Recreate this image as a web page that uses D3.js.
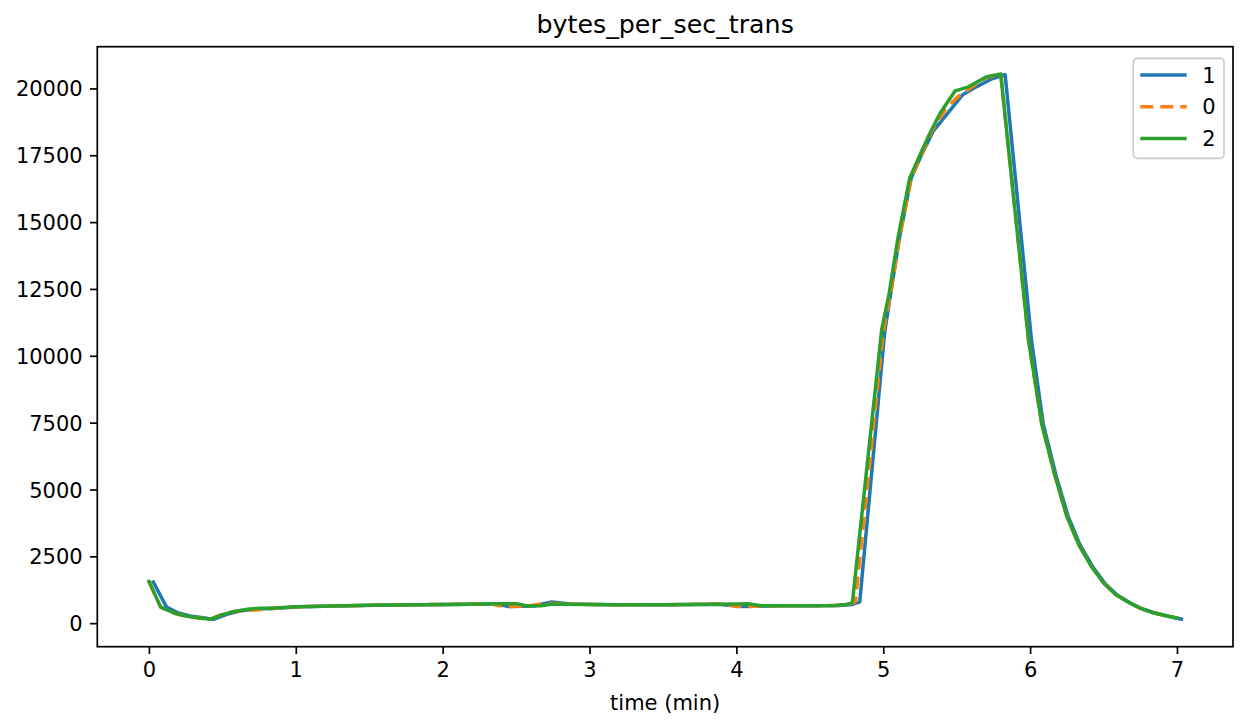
<!DOCTYPE html>
<html lang="en">
<head>
    <meta charset="UTF-8">
    <title>bytes_per_sec_trans</title>
    <style>
        html, body { margin: 0; padding: 0; background: #fff; overflow: hidden; }
        svg { display: block; }
        text { font-family: "DejaVu Sans", sans-serif; fill: #000; }
        .tick text { font-size: 21px; }
        .axis-label { font-size: 21px; }
        .title { font-size: 25.3px; }
    </style>
</head>
<body>

<svg width="1243" height="725"></svg>

<script src="https://d3js.org/d3.v7.min.js"></script>
<script>

    // Series "1" (blue)
    const time1 = [0.03, 0.12, 0.20, 0.28, 0.37, 0.44, 0.53, 0.62, 0.70, 0.78, 0.86, 0.95,
        1.03, 1.20, 1.37, 1.53, 1.70, 1.87, 2.03, 2.20, 2.37, 2.45, 2.62, 2.74, 2.87,
        3.03, 3.20, 3.37, 3.53, 3.70, 3.87, 4.04, 4.12, 4.20, 4.37, 4.53, 4.70, 4.79,
        4.84, 5.01, 5.05, 5.11, 5.19, 5.25, 5.34, 5.54, 5.63, 5.74, 5.83, 6.01, 6.09,
        6.18, 6.26, 6.34, 6.43, 6.51, 6.59, 6.68, 6.76, 6.85, 6.94, 7.03];
    const bytes1 = [1540, 600, 380, 270, 200, 140, 330, 450, 520, 540, 560, 590,
        610, 630, 650, 670, 680, 690, 700, 710, 720, 620, 640, 790, 720,
        700, 690, 690, 690, 700, 710, 620, 630, 640, 650, 650, 660, 700,
        800, 10900, 12300, 14400, 16640, 17390, 18400, 19760, 20050, 20360, 20510, 10550, 7430,
        5450, 3980, 2930, 2080, 1480, 1060, 760, 540, 380, 260, 150];

    // Series "0" (orange, dashed)
    const time0 = [0.00, 0.08, 0.17, 0.25, 0.33, 0.42, 0.50, 0.58, 0.67, 0.75, 0.83, 0.92,
        1.00, 1.17, 1.33, 1.50, 1.67, 1.83, 2.00, 2.17, 2.33, 2.42, 2.58, 2.67, 2.75, 2.83,
        3.00, 3.17, 3.33, 3.50, 3.67, 3.83, 3.92, 4.00, 4.08, 4.17, 4.33, 4.50, 4.67, 4.75,
        4.81, 5.00, 5.05, 5.11, 5.19, 5.25, 5.33, 5.42, 5.50, 5.59, 5.70, 5.80, 5.99, 6.08,
        6.17, 6.25, 6.33, 6.42, 6.50, 6.58, 6.67, 6.75, 6.83, 6.92, 7.00];
    const bytes0 = [1560, 600, 380, 260, 200, 150, 330, 440, 480, 500, 540, 580,
        610, 630, 650, 670, 680, 690, 700, 710, 720, 620, 640, 720, 740, 720,
        700, 690, 690, 690, 700, 710, 720, 620, 620, 640, 650, 650, 660, 700,
        790, 10900, 12330, 14400, 16640, 17390, 18400, 19200, 19650, 20000, 20400, 20540, 10550, 7430,
        5500, 4000, 2950, 2100, 1500, 1080, 780, 560, 400, 290, 190];

    // Series "2" (green)
    const time2 = [0.00, 0.08, 0.17, 0.25, 0.33, 0.42, 0.50, 0.58, 0.67, 0.75, 0.83, 0.92,
        1.00, 1.17, 1.33, 1.50, 1.67, 1.83, 2.00, 2.17, 2.33, 2.50, 2.58, 2.67, 2.75, 2.83,
        3.00, 3.17, 3.33, 3.50, 3.67, 3.83, 4.00, 4.08, 4.17, 4.33, 4.50, 4.67, 4.75,
        4.79, 4.99, 5.04, 5.10, 5.18, 5.24, 5.32, 5.39, 5.49, 5.58, 5.70, 5.80, 5.99, 6.08,
        6.17, 6.25, 6.33, 6.42, 6.50, 6.58, 6.67, 6.75, 6.83, 6.92, 7.00];
    const bytes2 = [1560, 600, 380, 270, 200, 150, 320, 440, 520, 560, 560, 590,
        610, 630, 650, 670, 680, 690, 700, 710, 730, 730, 640, 650, 720, 710,
        700, 690, 690, 690, 700, 710, 720, 730, 650, 650, 650, 660, 700,
        780, 11000, 12330, 14400, 16640, 17390, 18350, 19100, 19910, 20060, 20430, 20540, 10550, 7430,
        5500, 4000, 2950, 2100, 1500, 1080, 780, 560, 400, 290, 190];

    const seriesNames = ['1', '0', '2'];
    const seriesColors = ['#1f77b4', '#ff7f0e', '#2ca02c'];
    const seriesDash = [null, '13,7', null];

    const xTicks = [0, 1, 2, 3, 4, 5, 6, 7];
    const yTicks = [0, 2500, 5000, 7500, 10000, 12500, 15000, 17500, 20000];

    const chartTitle = 'bytes_per_sec_trans';
    const xLabel = 'time (min)';

    const series = [
        d3.zip(time1, bytes1),
        d3.zip(time0, bytes0),
        d3.zip(time2, bytes2)
    ];

    const margin = { left: 97.3, right: 10, top: 46.7, bottom: 78.3 };
    const lineWidth = 3.5;

    const svg = d3.select('svg');
    const width = +svg.attr('width');
    const height = +svg.attr('height');
    const innerWidth = width - margin.left - margin.right;
    const innerHeight = height - margin.top - margin.bottom;

    svg.append('rect')
        .attr('width', width)
        .attr('height', height)
        .attr('fill', '#fff');

    // matplotlib style 5% margins around the data
    const allPoints = d3.merge(series);
    const xExt = d3.extent(allPoints, function (d) { return d[0]; });
    const yExt = d3.extent(allPoints, function (d) { return d[1]; });
    const xPad = (xExt[1] - xExt[0]) * 0.05;
    const yPad = (yExt[1] - yExt[0]) * 0.05;

    const xScale = d3.scaleLinear()
        .domain([xExt[0] - xPad, xExt[1] + xPad])
        .range([0, innerWidth]);

    const yScale = d3.scaleLinear()
        .domain([yExt[0] - yPad, yExt[1] + yPad])
        .range([innerHeight, 0]);

    const group = svg.append('g')
        .attr('transform', 'translate(' + margin.left + ' ' + margin.top + ')');

    const line = d3.line()
        .x(function (d) { return xScale(d[0]); })
        .y(function (d) { return yScale(d[1]); });

    group.append('g')
        .selectAll('path')
        .data(series)
        .enter()
        .append('path')
        .attr('d', line)
        .attr('fill', 'none')
        .attr('stroke', function (d, i) { return seriesColors[i]; })
        .attr('stroke-width', lineWidth)
        .attr('stroke-linejoin', 'round')
        .attr('stroke-linecap', function (d, i) { return seriesDash[i] ? 'butt' : 'square'; })
        .attr('stroke-dasharray', function (d, i) { return seriesDash[i]; });

    const xAxis = d3.axisBottom(xScale)
        .tickValues(xTicks)
        .tickFormat(d3.format('d'))
        .tickSize(7.3)
        .tickPadding(7.3);

    const yAxis = d3.axisLeft(yScale)
        .tickValues(yTicks)
        .tickFormat(d3.format('d'))
        .tickSize(7.3)
        .tickPadding(7.3);

    const xAxisG = group.append('g')
        .attr('transform', 'translate(0 ' + innerHeight + ')')
        .call(xAxis);

    const yAxisG = group.append('g')
        .call(yAxis);

    [xAxisG, yAxisG].forEach(function (g) {
        g.attr('font-size', null).attr('font-family', null);
        g.select('.domain').remove();
        g.selectAll('.tick line').attr('stroke', '#000').attr('stroke-width', 1.7);
        g.selectAll('.tick text').attr('fill', '#000');
    });

    xAxisG.selectAll('.tick text').attr('dy', '0.76em');
    yAxisG.selectAll('.tick text').attr('dy', '0.36em');

    // frame
    group.append('rect')
        .attr('width', innerWidth)
        .attr('height', innerHeight)
        .attr('fill', 'none')
        .attr('stroke', '#000')
        .attr('stroke-width', 1.7);

    // title and axis label
    svg.append('text')
        .attr('class', 'title')
        .attr('x', margin.left + innerWidth / 2)
        .attr('y', 33)
        .attr('text-anchor', 'middle')
        .text(chartTitle);

    svg.append('text')
        .attr('class', 'axis-label')
        .attr('x', margin.left + innerWidth / 2)
        .attr('y', 710)
        .attr('text-anchor', 'middle')
        .text(xLabel);

    // legend
    const legend = svg.append('g')
        .attr('transform', 'translate(1133.3 58.3)');

    legend.append('rect')
        .attr('width', 90.7)
        .attr('height', 100)
        .attr('rx', 4)
        .attr('fill', '#fff')
        .attr('fill-opacity', 0.8)
        .attr('stroke', '#cccccc')
        .attr('stroke-width', 1.7);

    const legendRow = legend.selectAll('g.row')
        .data(seriesNames)
        .enter()
        .append('g')
        .attr('class', 'row')
        .attr('transform', function (d, i) { return 'translate(0 ' + (16.7 + i * 31.7) + ')'; });

    legendRow.append('line')
        .attr('x1', 7)
        .attr('x2', 53.4)
        .attr('stroke', function (d, i) { return seriesColors[i]; })
        .attr('stroke-width', lineWidth)
        .attr('stroke-dasharray', function (d, i) { return seriesDash[i]; });

    legendRow.append('text')
        .attr('x', 69)
        .attr('dy', '0.36em')
        .style('font-size', '21px')
        .text(function (d) { return d; });

</script>
</body>
</html>
